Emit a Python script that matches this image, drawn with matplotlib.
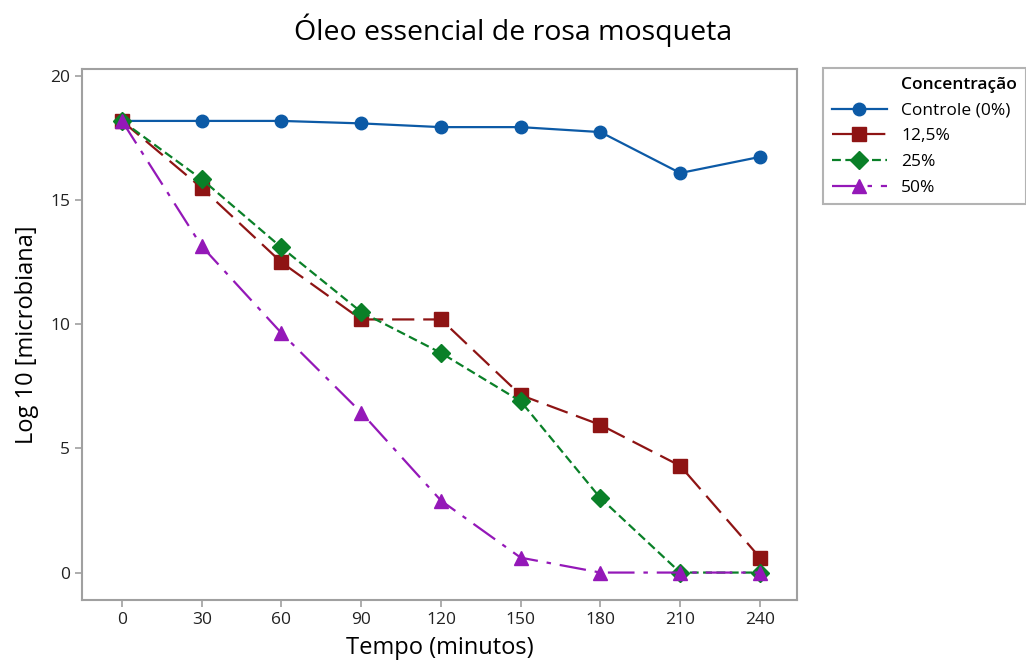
import matplotlib
matplotlib.use("Agg")
import matplotlib.pyplot as plt
from matplotlib.lines import Line2D

plt.rcParams["font.family"] = ["Open Sans", "DejaVu Sans"]

tempo = [0, 30, 60, 90, 120, 150, 180, 210, 240]
controle = [18.2, 18.2, 18.2, 18.1, 17.95, 17.95, 17.75, 16.1, 16.75]
conc_12_5 = [18.2, 15.5, 12.5, 10.2, 10.2, 7.15, 5.95, 4.3, 0.6]
conc_25 = [18.2, 15.85, 13.1, 10.5, 8.85, 6.9, 3.0, 0.0, 0.0]
conc_50 = [18.2, 13.15, 9.65, 6.45, 2.9, 0.6, 0.0, 0.0, 0.0]

labels = ["Controle (0%)", "12,5%", "25%", "50%"]
series = [controle, conc_12_5, conc_25, conc_50]
colors = ["#0c5aa6", "#8e1414", "#0a8028", "#9418b8"]
markers = ["o", "s", "D", "^"]
msizes = [9, 10, 9, 10]
styles = ["-", (0, (10, 4)), (0, (4, 2)), (0, (12, 4, 2, 4))]

fig = plt.figure(figsize=(10.26, 6.68), dpi=100)
ax = fig.add_axes([0.080, 0.102, 0.697, 0.795])

for vals, lab, c, m, ms, ls in zip(series, labels, colors, markers, msizes, styles):
    ax.plot(tempo, vals, color=c, marker=m, markersize=ms, linestyle=ls,
            linewidth=1.6, label=lab)

ax.set_xlim(-15, 254)
ax.set_ylim(-1.1, 20.3)
ax.set_xticks(tempo)
ax.set_yticks([0, 5, 10, 15, 20])
for s in ax.spines.values():
    s.set_color("#a0a0a0")
    s.set_linewidth(1.5)
ax.tick_params(colors="#a0a0a0", labelcolor="#222222", labelsize=12.5, length=5, width=1.2)

ax.set_xlabel("Tempo (minutos)", fontsize=17, labelpad=6)
ax.set_ylabel("Log 10 [microbiana]", fontsize=17, labelpad=8)
fig.text(0.5, 0.955, "Óleo essencial de rosa mosqueta", fontsize=20.5, ha="center", va="center")

handles, labs = ax.get_legend_handles_labels()
title_handle = Line2D([], [], linestyle="none")
leg = fig.legend([title_handle] + handles, ["Concentração"] + labs,
                 loc="upper left", bbox_to_anchor=(0.802, 0.898),
                 bbox_transform=fig.transFigure, borderaxespad=0,
                 fontsize=12.5, frameon=True, fancybox=False,
                 handlelength=3.2, labelspacing=0.55, borderpad=0.5)
leg.get_frame().set_edgecolor("#a0a0a0")
leg.get_frame().set_linewidth(1.5)
leg.get_texts()[0].set_fontweight("semibold")

fig.savefig("out.png", dpi=100)
